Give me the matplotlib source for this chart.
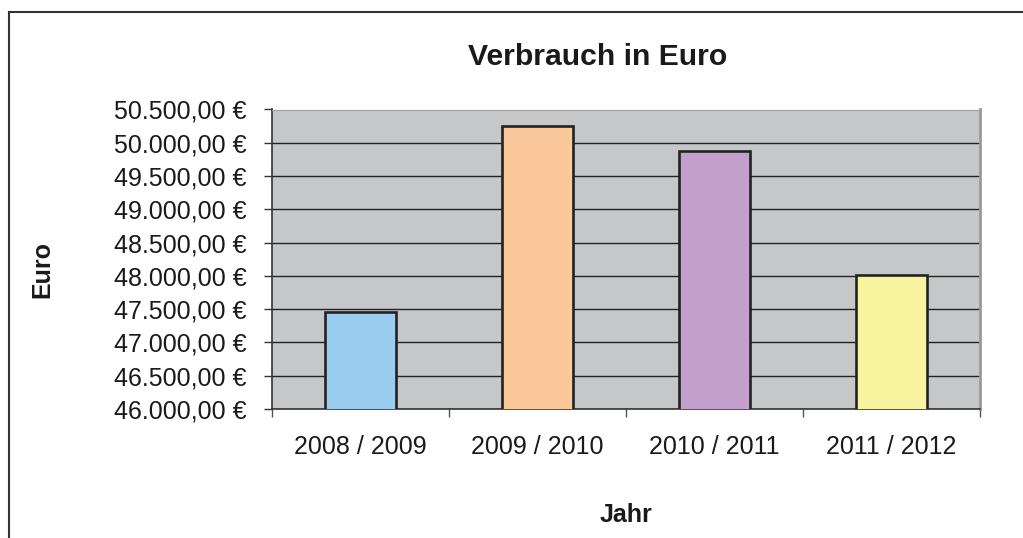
import matplotlib.pyplot as plt
from matplotlib.ticker import FuncFormatter

plt.rcParams['font.family'] = ['Liberation Sans', 'DejaVu Sans']

jahre = ['2008 / 2009', '2009 / 2010', '2010 / 2011', '2011 / 2012']
verbrauch = [47450, 50250, 49875, 48010]
farben = ['#99CCEE', '#FAC89A', '#C3A0CB', '#F7F39F']


def euro(v, pos):
    s = f'{v:,.2f}'.replace(',', 'X').replace('.', ',').replace('X', '.')
    return s + ' €'


fig = plt.figure(figsize=(10.23, 5.38), dpi=100)
ax = fig.add_axes([271.7 / 1023, 1 - 409 / 538, (980 - 271.7) / 1023, (409 - 109.5) / 538])
ax.set_facecolor('#C6C7C9')

x = range(len(jahre))
ax.bar(x, verbrauch, width=0.4, color=farben, edgecolor='#222222', linewidth=1.9, zorder=3)

ax.set_ylim(46000, 50500)
ax.set_xlim(-0.5, 3.5)
ax.set_yticks(range(46000, 50501, 500))
ax.yaxis.set_major_formatter(FuncFormatter(euro))
ax.yaxis.grid(True, color='#222222', linewidth=1.0, zorder=1)

ax.set_xticks([0, 1, 2, 3])
ax.set_xticklabels(jahre)
ax.set_xticks([-0.5, 0.5, 1.5, 2.5, 3.5], minor=True)
ax.tick_params(axis='x', which='major', length=0, pad=19, labelsize=18, labelcolor='#1a1a1a')
ax.tick_params(axis='x', which='minor', length=6, width=1, color='#555555', direction='out')
ax.tick_params(axis='y', length=6, width=1, color='#333333', pad=12, labelsize=18, labelcolor='#1a1a1a')

ax.spines['left'].set_color('#333333')
ax.spines['bottom'].set_color('#333333')
ax.spines['left'].set_linewidth(1.2)
ax.spines['bottom'].set_linewidth(1.2)
ax.spines['top'].set_color('#A0A0A0')
ax.spines['right'].set_color('#999999')
ax.spines['right'].set_linewidth(2)

fig.text(598 / 1023, 1 - 57 / 538, 'Verbrauch in Euro', ha='center', va='center',
         fontsize=21.7, fontweight='bold', color='#1a1a1a')
fig.text(42 / 1023, 1 - 270 / 538, 'Euro', ha='center', va='center', rotation=90,
         fontsize=18, fontweight='bold', color='#1a1a1a')
fig.text(626 / 1023, 1 - 515 / 538, 'Jahr', ha='center', va='center',
         fontsize=18, fontweight='bold', color='#1a1a1a')

# Rahmen um das Diagramm
fig.add_artist(plt.Line2D([8.5 / 1023, 8.5 / 1023], [0, 1 - 12 / 538], color='#333333', linewidth=1.5))
fig.add_artist(plt.Line2D([8.5 / 1023, 1], [1 - 12 / 538, 1 - 12 / 538], color='#333333', linewidth=1.5))

fig.savefig('out.png', dpi=100)
